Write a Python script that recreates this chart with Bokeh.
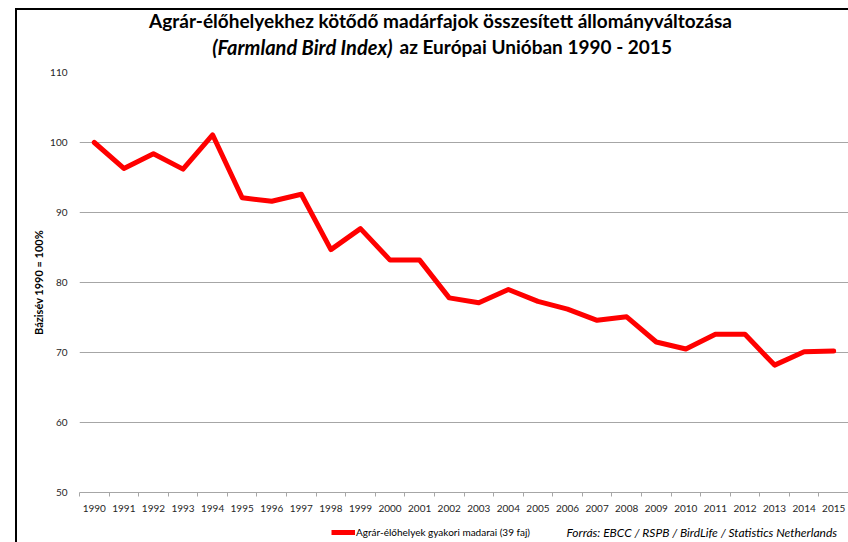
from bokeh.plotting import figure
from bokeh.layouts import column
from bokeh.models import Range1d, FixedTicker, Legend, LegendItem, Label
from bokeh.embed import file_html
from bokeh.resources import INLINE

years = list(range(1990, 2016))
index_values = [100.0, 96.3, 98.4, 96.2, 101.1, 92.1, 91.6, 92.6, 84.7, 87.7,
                83.2, 83.2, 77.8, 77.1, 79.0, 77.3, 76.2, 74.6, 75.1, 71.5,
                70.5, 72.6, 72.6, 68.2, 70.1, 70.2]
y_ticks = [50, 60, 70, 80, 90, 100, 110]
title_line1 = "Agrár-élőhelyekhez kötődő madárfajok összesített állományváltozása"
title_line2_italic = "(Farmland Bird Index)"
title_line2_rest = "az Európai Unióban 1990 - 2015"
y_label = "Bázisév 1990 = 100%"
series_label = "Agrár-élőhelyek gyakori madarai (39 faj)"
source_text = "Forrás: EBCC / RSPB / BirdLife / Statistics Netherlands"

FONT = "Lato"
GRID = "#a6a6a6"
W = 831
LEFT = 62


def strip(height):
    f = figure(width=W, height=height, output_backend="svg", toolbar_location=None,
               x_range=Range1d(0, 1), y_range=Range1d(0, 1),
               x_axis_type=None, y_axis_type=None,
               min_border_left=LEFT, min_border_right=0, min_border_top=0, min_border_bottom=0)
    f.outline_line_color = None
    f.grid.visible = False
    f.background_fill_color = "white"
    f.border_fill_color = "white"
    return f


# ---- title strip ----
top = strip(50)
top.add_layout(Label(x=361, y=40, x_units="screen", y_units="screen", text=title_line1,
                     text_align="center", text_baseline="middle", text_font=FONT,
                     text_font_size="19px", text_font_style="bold", text_color="#000000"))
top.add_layout(Label(x=313, y=14, x_units="screen", y_units="screen", text=title_line2_italic,
                     text_align="right", text_baseline="middle", text_font=FONT,
                     text_font_size="20px", text_font_style="bold italic", text_color="#000000"))
top.add_layout(Label(x=320, y=14, x_units="screen", y_units="screen", text=title_line2_rest,
                     text_align="left", text_baseline="middle", text_font=FONT,
                     text_font_size="19px", text_font_style="bold", text_color="#000000"))

# ---- main chart ----
p = figure(width=W, height=460, output_backend="svg", toolbar_location=None,
           x_range=Range1d(years[0] - 0.5, years[-1] + 0.5),
           y_range=Range1d(y_ticks[0], y_ticks[-1]),
           min_border_left=LEFT, min_border_right=0, min_border_top=12, min_border_bottom=28)
p.outline_line_color = None
p.background_fill_color = "white"
p.border_fill_color = "white"

boundaries = [y - 0.5 for y in years] + [years[-1] + 0.5]
p.xaxis.ticker = FixedTicker(ticks=years, minor_ticks=boundaries)
p.xaxis.major_tick_out = 0
p.xaxis.major_tick_in = 0
p.xaxis.minor_tick_out = 4
p.xaxis.minor_tick_in = 0
p.xaxis.minor_tick_line_color = GRID
p.xaxis.axis_line_color = GRID
p.xaxis.major_label_standoff = 8
p.xaxis.major_label_text_font = FONT
p.xaxis.major_label_text_font_size = "10px"
p.xaxis.major_label_text_color = "#262626"
p.xgrid.grid_line_color = None

p.yaxis.ticker = FixedTicker(ticks=y_ticks)
p.yaxis.axis_line_color = None
p.yaxis.major_tick_line_color = None
p.yaxis.minor_tick_line_color = None
p.yaxis.major_label_standoff = 6
p.yaxis.major_label_text_font = FONT
p.yaxis.major_label_text_font_size = "10px"
p.yaxis.major_label_text_color = "#262626"
p.yaxis.axis_label = y_label
p.yaxis.axis_label_text_font = FONT
p.yaxis.axis_label_text_font_size = "11px"
p.yaxis.axis_label_text_font_style = "bold"
p.yaxis.axis_label_text_color = "#000000"
p.yaxis.axis_label_standoff = 2
p.ygrid.ticker = FixedTicker(ticks=y_ticks)
p.ygrid.grid_line_color = GRID

p.line(years, index_values, line_color="#ff0000", line_width=5,
       line_join="round", line_cap="round")

# ---- legend / source strip ----
bottom = strip(22)
# same series, outside this strip's visible range: only its legend sample shows
sample = bottom.line(years, index_values, line_color="#ff0000", line_width=5)
bottom.add_layout(Legend(items=[LegendItem(label=series_label, renderers=[sample])],
                         location=(252, 4), orientation="horizontal", padding=0, margin=0,
                         glyph_width=24, glyph_height=12, label_standoff=1, label_height=12,
                         label_text_font=FONT, label_text_font_size="10px",
                         label_text_color="#000000",
                         border_line_color=None, background_fill_alpha=0), "center")
bottom.add_layout(Label(x=487, y=10, x_units="screen", y_units="screen", text=source_text,
                        text_align="left", text_baseline="middle", text_font=FONT,
                        text_font_size="12px", text_font_style="italic", text_color="#000000"))

layout = column(top, p, bottom, spacing=0,
                styles={"margin-left": "15px", "margin-top": "8px",
                        "border-left": "2px solid #000000", "border-top": "2px solid #000000"})

open("out.html", "w").write(file_html(layout, INLINE))
